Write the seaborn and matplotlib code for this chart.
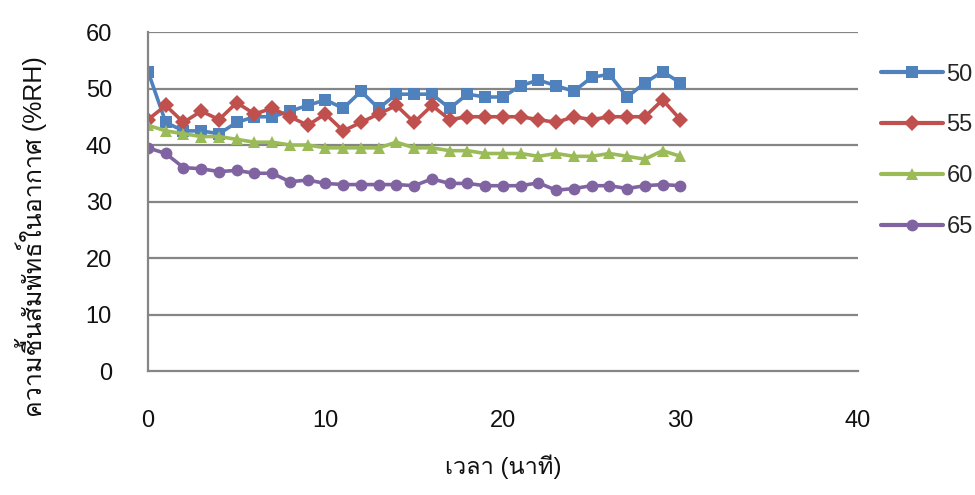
import matplotlib
matplotlib.use("Agg")
import matplotlib.pyplot as plt
from matplotlib import font_manager, ft2font
import numpy as np
import pandas as pd
import seaborn as sns

# Time in minutes and relative humidity (%RH) for each set temperature
time_min = list(range(0, 31))
rh_50 = [53, 44, 42.5, 42.5, 42, 44, 45, 45, 46, 47, 48, 46.5, 49.5, 46.5, 49,
         49, 49, 46.5, 49, 48.5, 48.5, 50.5, 51.5, 50.5, 49.5, 52, 52.5, 48.5,
         51, 53, 51]
rh_55 = [44.5, 47, 44, 46, 44.5, 47.5, 45.5, 46.5, 45, 43.5, 45.5, 42.5, 44,
         45.5, 47, 44, 47, 44.5, 45, 45, 45, 45, 44.5, 44, 45, 44.5, 45, 45,
         45, 48, 44.5]
rh_60 = [43.5, 42.5, 42, 41.5, 41.5, 41, 40.5, 40.5, 40, 40, 39.5, 39.5, 39.5,
         39.5, 40.5, 39.5, 39.5, 39, 39, 38.5, 38.5, 38.5, 38, 38.5, 38, 38,
         38.5, 38, 37.5, 39, 38]
rh_65 = [39.5, 38.5, 36, 35.8, 35.3, 35.5, 35, 35, 33.5, 33.8, 33.2, 33, 33,
         33, 33, 32.8, 34, 33.2, 33.2, 32.8, 32.8, 32.8, 33.3, 32, 32.3, 32.8,
         32.8, 32.3, 32.8, 33, 32.8]
series_names = ["50", "55", "60", "65"]
y_ticks = [0, 10, 20, 30, 40, 50, 60]
x_ticks = [0, 10, 20, 30, 40]

colors = ["#4F81BD", "#C0504D", "#9BBB59", "#8064A2"]
markers = ["s", "D", "^", "o"]


def thai_font():
    """Return the name of an installed font that has Thai glyphs."""
    for f in font_manager.fontManager.ttflist:
        try:
            ft = ft2font.FT2Font(f.fname)
            if ft.get_char_index(ord("ว")) and ft.get_char_index(ord("ท")):
                return f.name
        except Exception:
            continue
    return "DejaVu Sans"


df = pd.DataFrame({
    "time": time_min * 4,
    "rh": rh_50 + rh_55 + rh_60 + rh_65,
    "series": sum([[n] * len(time_min) for n in series_names], []),
})

sns.set_theme(style="white")
plt.rcParams["font.family"] = ["Liberation Sans", thai_font(), "DejaVu Sans"]

fig = plt.figure(figsize=(9.75, 4.95), dpi=100)
ax = fig.add_axes([0.1518, 0.2505, 0.728, 0.6848])

for y in y_ticks[1:]:
    ax.axhline(y, color="#858585", lw=1.6, zorder=0)

sns.lineplot(data=df, x="time", y="rh", hue="series", style="series",
             palette=colors, markers=markers, dashes=False, lw=2.6,
             markersize=8.5, markeredgewidth=0, ax=ax, legend=True)

ax.set_xlim(0, 40)
ax.set_ylim(0, 60)
ax.set_xticks(x_ticks)
ax.set_yticks(y_ticks)
ax.tick_params(axis="both", labelsize=17, colors="#858585", labelcolor="#111111",
               direction="out", length=9, width=1.4)
ax.tick_params(axis="x", pad=19)
ax.tick_params(axis="y", pad=17)
for side in ["top", "right"]:
    ax.spines[side].set_visible(False)
for side in ["left", "bottom"]:
    ax.spines[side].set_color("#858585")
    ax.spines[side].set_linewidth(1.6)

ax.set_xlabel("เวลา (นาที)", fontsize=17, color="#111111")
ax.xaxis.set_label_coords(0.5, -0.245)
ax.set_ylabel("ความชื้นสัมพัทธ์ในอากาศ (%RH)", fontsize=18, color="#111111")
ax.yaxis.set_label_coords(-0.142, 0.395)

leg = ax.legend(loc="upper left", bbox_to_anchor=(1.02, 0.935), frameon=False,
                fontsize=17, handlelength=2.6, handletextpad=0.15,
                labelspacing=1.22, borderaxespad=0)
for line in leg.get_lines():
    line.set_linewidth(3)

fig.savefig("out.png", dpi=100)
